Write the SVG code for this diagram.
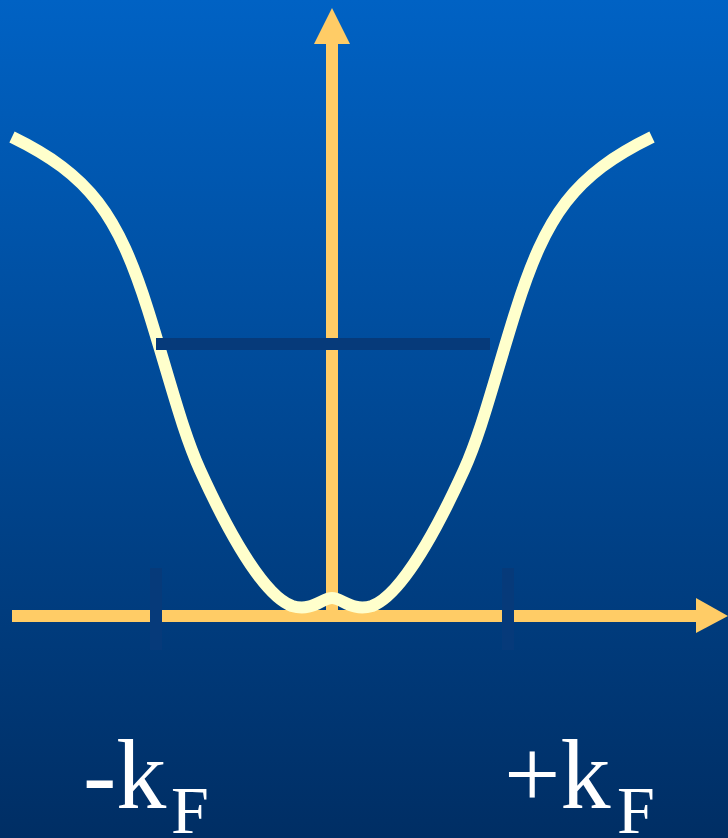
<svg xmlns="http://www.w3.org/2000/svg" width="728" height="838" viewBox="0 0 728 838">
  <defs>
    <linearGradient id="bg" x1="0" y1="0" x2="0" y2="1">
      <stop offset="0" stop-color="#0062C4"/>
      <stop offset="1" stop-color="#002E64"/>
    </linearGradient>
    <style>
      .axis { stroke: #FFCC66; stroke-width: 12; fill: none; }
      .head { fill: #FFCC66; }
      .curve { stroke: #FFFFCC; stroke-width: 12; fill: none; stroke-linejoin: round; }
      .dark { stroke: #063A7A; stroke-width: 12; fill: none; }
      .lbl { font-family: "Liberation Serif", "Times New Roman", serif; fill: #FFFFFF; }
    </style>
  </defs>
  <rect x="0" y="0" width="728" height="838" fill="url(#bg)"/>
  <g id="connectors">
    <g id="axis-y">
      <line class="axis" x1="332" y1="612" x2="332" y2="42"/>
      <polygon class="head" points="314,44 332,8 350,44"/>
    </g>
    <g id="axis-x">
      <line class="axis" x1="12" y1="616" x2="698" y2="616"/>
      <polygon class="head" points="696,598 728,616 696,633"/>
    </g>
  </g>
  <g id="curve">
    <path class="curve" d="M12,137 C90,175 118,215 148,310 C170,380 182,430 200,470 C225,525 262,595 292,606 C312,612 322,598 332,598 C342,598 352,612 372,606 C402,595 439,525 464,470 C482,430 494,380 516,310 C546,215 574,175 652,137"/>
  </g>
  <g id="level">
    <line class="dark" x1="156" y1="344" x2="490" y2="344"/>
  </g>
  <g id="tick-left">
    <line class="dark" x1="156" y1="568" x2="156" y2="650"/>
  </g>
  <g id="tick-right">
    <line class="dark" x1="508" y1="568" x2="508" y2="650"/>
  </g>
  <g id="label-left">
    <text class="lbl" x="83" y="808" font-size="100">-k</text>
    <text class="lbl" x="171" y="833" font-size="68">F</text>
  </g>
  <g id="label-right">
    <text class="lbl" x="504" y="808" font-size="100">+k</text>
    <text class="lbl" x="617" y="833" font-size="68">F</text>
  </g>
</svg>
